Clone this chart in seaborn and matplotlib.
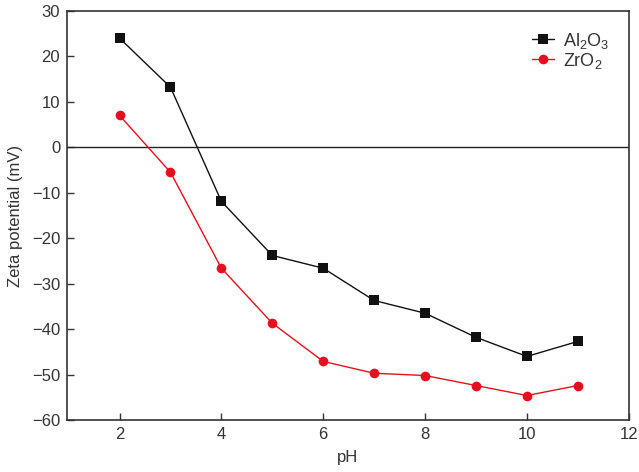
import matplotlib
matplotlib.use("Agg")
import matplotlib.pyplot as plt
import pandas as pd
import seaborn as sns

ph = [2, 3, 4, 5, 6, 7, 8, 9, 10, 11]
al2o3 = [24.0, 13.2, -11.9, -23.8, -26.6, -33.7, -36.5, -41.8, -46.0, -42.7]
zro2 = [7.0, -5.5, -26.6, -38.7, -47.1, -49.7, -50.2, -52.4, -54.6, -52.4]
series_names = ["Al$_2$O$_3$", "ZrO$_2$"]
x_ticks = [2, 4, 6, 8, 10, 12]
y_ticks = [30, 20, 10, 0, -10, -20, -30, -40, -50, -60]

sns.set_style("ticks")
plt.rcParams["font.family"] = ["Liberation Sans", "DejaVu Sans"]
plt.rcParams["mathtext.fontset"] = "custom"
plt.rcParams["mathtext.rm"] = "Liberation Sans"
plt.rcParams["axes.unicode_minus"] = True

df = pd.DataFrame({
    "pH": ph * 2,
    "zeta": al2o3 + zro2,
    "sample": [series_names[0]] * len(ph) + [series_names[1]] * len(ph),
})

fig, ax = plt.subplots(figsize=(6.39, 4.72), dpi=100)
fig.subplots_adjust(left=0.105, right=0.984, top=0.977, bottom=0.11)

palette = {series_names[0]: "#111111", series_names[1]: "#e3101f"}
sns.lineplot(
    data=df, x="pH", y="zeta", hue="sample", style="sample",
    palette=palette, markers={series_names[0]: "s", series_names[1]: "o"},
    dashes=False, markersize=7, linewidth=1.0, markeredgewidth=0,
    ax=ax,
)

fs = 12
ax.axhline(0, color="#222222", linewidth=1.0, zorder=1)
ax.set_xlim(0.97, 12)
ax.set_ylim(-60, 30)
ax.set_xticks(x_ticks)
ax.set_yticks(y_ticks)
ax.tick_params(direction="in", length=5, width=1, labelsize=fs, colors="#333333",
               labelcolor="#333333", pad=5)
for s in ax.spines.values():
    s.set_color("#333333")
    s.set_linewidth(1.2)
ax.set_xlabel("pH", fontsize=fs, color="#333333", labelpad=6)
ax.set_ylabel("Zeta potential (mV)", fontsize=fs, color="#333333", labelpad=6)

leg = ax.legend(loc="upper right", frameon=False, fontsize=13, handlelength=1.25,
                handletextpad=0.45, labelspacing=0.0, borderaxespad=0.7)
for t in leg.get_texts():
    t.set_color("#333333")

fig.savefig("out.png", dpi=100)
